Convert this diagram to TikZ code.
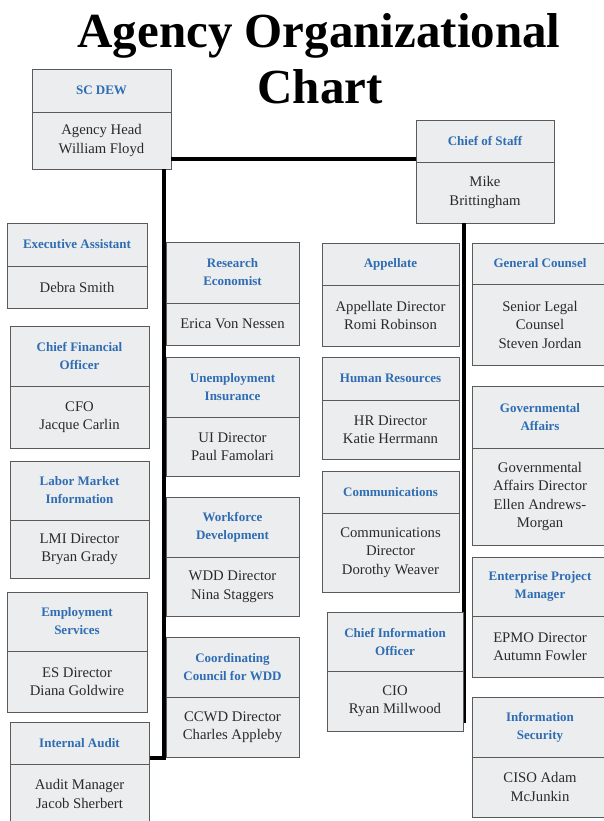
\documentclass[tikz,border=0pt]{standalone}
\usepackage{fontspec}
\setmainfont{Liberation Serif}
\definecolor{hdblue}{HTML}{2F6DB3}
\definecolor{boxfill}{HTML}{ECEDEF}
\definecolor{boxline}{HTML}{5A5A5A}
\definecolor{bodytext}{HTML}{2A2A2A}
\tikzset{
  boxbase/.style={draw=boxline, fill=boxfill, line width=0.9pt, anchor=north west, inner sep=2pt, outer sep=0pt, align=center},
  hdr/.style={boxbase, text=hdblue, font=\bfseries\fontsize{13}{18}\selectfont},
  bdy/.style={boxbase, text=bodytext, font=\fontsize{14.7}{18.5}\selectfont},
  conn/.style={line width=4.5pt, black},
  titletext/.style={anchor=base, font=\bfseries\fontsize{49}{56}\selectfont, text=black},
}
\newcommand\orgbox[8]{%
  \node[hdr, minimum width={(#4-#2)*1pt}, minimum height={(#5-#3)*1pt}] (#1-h) at (#2,#3) {#7};
  \node[bdy, minimum width={(#4-#2)*1pt}, minimum height={(#6-#5)*1pt}] (#1) at (#2,#5) {#8};
}
\begin{document}
\begin{tikzpicture}[x=1pt,y=-1pt]
\useasboundingbox[fill=white] (0,0) rectangle (603,821);
% title
\node[titletext] (title1) at (319,48) {Agency Organizational};
\node[titletext] (title2) at (320,104) {Chart};
% coordinates for connectors
\coordinate (hl) at (0,159);
\coordinate (vl) at (164,0);
\coordinate (cornerA) at (164,758);
\coordinate (cosend) at (464,723);
% top-level boxes
\orgbox{scdew}{32}{69}{171}{112}{169}{SC DEW}{Agency Head\\William Floyd}
\orgbox{cos}{416}{120}{554}{162}{223}{Chief of Staff}{Mike\\Brittingham}
% connectors (behind department boxes)
\draw[conn] (scdew.east |- hl) -- (cos-h.west |- hl);
\draw[conn] (scdew.south -| vl) -- (cornerA) -- (cornerA -| 147,0);
\draw[conn] (cos.south -| cosend) -- (cosend);
% left column
\orgbox{exec}{7}{223}{147}{266}{308}{Executive Assistant}{Debra Smith}
\orgbox{cfo}{10}{326}{149}{386}{448}{Chief Financial\\Officer}{CFO\\Jacque Carlin}
\orgbox{lmi}{10}{461}{149}{520}{578}{Labor Market\\Information}{LMI Director\\Bryan Grady}
\orgbox{es}{7}{592}{147}{651}{712}{Employment\\Services}{ES Director\\Diana Goldwire}
\orgbox{audit}{10}{722}{149}{764}{824}{Internal Audit}{Audit Manager\\Jacob Sherbert}
% second column
\orgbox{research}{166}{242}{299}{303}{345}{Research\\Economist}{Erica Von Nessen}
\orgbox{ui}{166}{357}{299}{417}{476}{Unemployment\\Insurance}{UI Director\\Paul Famolari}
\orgbox{wdd}{166}{497}{299}{557}{616}{Workforce\\Development}{WDD Director\\Nina Staggers}
\orgbox{ccwd}{166}{637}{299}{697}{757}{Coordinating\\Council for WDD}{CCWD Director\\Charles Appleby}
% third column
\orgbox{appellate}{322}{243}{459}{285}{346}{Appellate}{Appellate Director\\Romi Robinson}
\orgbox{hr}{322}{357}{459}{400}{459}{Human Resources}{HR Director\\Katie Herrmann}
\orgbox{comm}{322}{471}{459}{513}{592}{Communications}{Communications\\Director\\Dorothy Weaver}
\orgbox{cio}{327}{612}{463}{671}{731}{Chief Information\\Officer}{CIO\\Ryan Millwood}
% right column
\orgbox{gc}{472}{243}{608}{284}{365}{General Counsel}{Senior Legal\\Counsel\\Steven Jordan}
\orgbox{ga}{472}{386}{608}{448}{545}{Governmental\\Affairs}{Governmental\\Affairs Director\\Ellen Andrews-\\Morgan}
\orgbox{epm}{472}{557}{608}{616}{677}{Enterprise Project\\Manager}{EPMO Director\\Autumn Fowler}
\orgbox{infosec}{472}{697}{608}{757}{817}{Information\\Security}{CISO Adam\\McJunkin}
\end{tikzpicture}
\end{document}
